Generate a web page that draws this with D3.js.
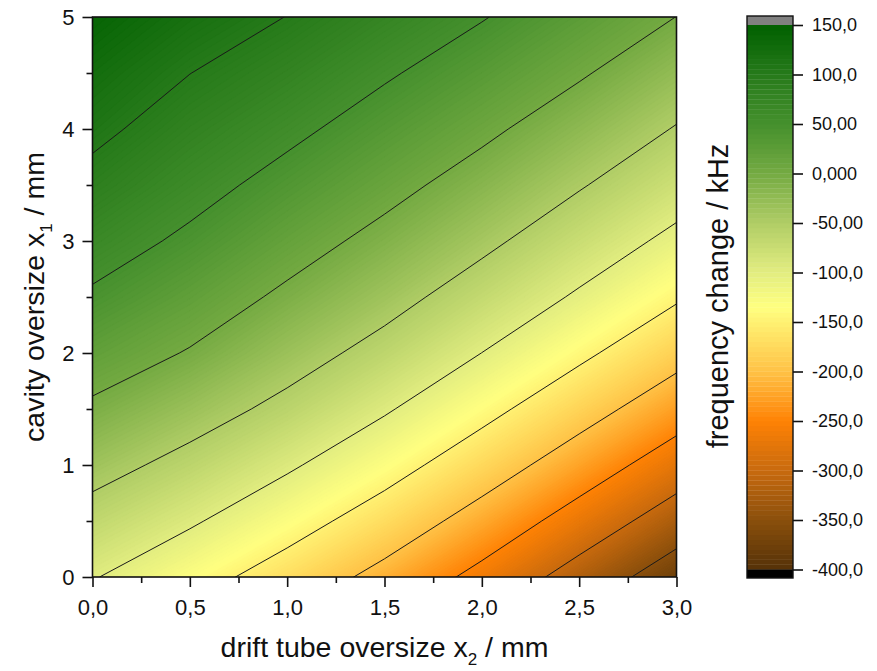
<!DOCTYPE html>
<html>
<head>
<meta charset="utf-8">
<script src="https://cdn.jsdelivr.net/npm/d3@7"></script>
<style>
  body { margin: 0; background: #fff; }
  text { font-family: "Liberation Sans", Arial, sans-serif; fill: #111; }
</style>
</head>
<body>
<svg id="chart" width="877" height="671"></svg>
<script>
// Grid axes (mm)
const driftOversize = [0, 0.5, 1.0, 1.5, 2.0, 2.5, 3.0];               // x2, columns
const cavityOversize = [0, 0.5, 1.0, 1.5, 2.0, 2.5, 3.0, 3.5, 4.0, 4.5, 5.0]; // x1, rows

// Frequency change in kHz, one row per cavity oversize x1, one column per drift tube oversize x2
const freqChange = [
  [-97.5, -132.0, -170.4, -213.7, -263.0, -319.5, -376.0],
  [-66.0,  -94.8, -131.1, -171.5, -218.4, -269.8, -324.5],
  [-35.3,  -62.4,  -94.0, -131.9, -176.0, -223.7, -274.5],
  [ -6.0,  -31.8,  -60.6,  -95.5, -136.5, -181.0, -227.7],
  [ 20.0,   -2.4,  -32.5,  -63.5, -100.2, -141.0, -184.7],
  [ 45.0,   20.7,   -6.7,  -35.6,  -69.5, -105.0, -145.1],
  [ 67.2,   43.2,   15.9,  -10.9,  -41.0,  -75.3, -109.9],
  [ 88.8,   63.1,   37.5,   11.9,  -16.0,  -46.9,  -80.0],
  [108.7,   81.7,   58.6,   33.1,    7.9,  -21.2,  -52.2],
  [125.0,  100.4,   79.0,   54.3,   29.9,    4.0,  -26.1],
  [141.0,  119.0,   99.4,   75.6,   52.0,   26.0,   -0.3]
];

// Contour line levels (kHz)
const lineLevels = [-350, -300, -250, -200, -150, -100, -50, 0, 50, 100];

// Tick labels
const xTickLabels = ["0,0", "0,5", "1,0", "1,5", "2,0", "2,5", "3,0"];
const yTickValues = [0, 1, 2, 3, 4, 5];
const yTickLabels = ["0", "1", "2", "3", "4", "5"];
const barTickValues = [150, 100, 50, 0, -50, -100, -150, -200, -250, -300, -350, -400];
const barTickLabels = ["150,0", "100,0", "50,00", "0,000", "-50,00", "-100,0", "-150,0",
                       "-200,0", "-250,0", "-300,0", "-350,0", "-400,0"];

// Colour palette (kHz -> colour)
const paletteStops  = [150, 100, 50, 0, -50, -100, -135, -200, -250, -300, -350, -400];
const paletteColors = ["#006000", "#267a1a", "#45902d", "#74aa42", "#b0cd66", "#e2ed80",
                       "#ffff80", "#ffc246", "#ff8204", "#c86a0e", "#8a4f0c", "#553208"];

const svg = d3.select("#chart");
const plot = { left: 92.5, right: 676.5, top: 17, bottom: 577 };

const xs = d3.scaleLinear().domain([0, 3]).range([plot.left, plot.right]);
const ys = d3.scaleLinear().domain([0, 5]).range([plot.bottom, plot.top]);
const color = d3.scaleLinear().domain(paletteStops).range(paletteColors)
  .interpolate(d3.interpolateRgb).clamp(true);

const nx = driftOversize.length, ny = cavityOversize.length;
const values = freqChange.flat();
const dx = driftOversize[1] - driftOversize[0];
const dy = cavityOversize[1] - cavityOversize[0];

// grid coordinates from d3.contours put sample i at i + 0.5
const gridProj = d3.geoTransform({
  point(cx, cy) {
    this.stream.point(xs(driftOversize[0] + (cx - 0.5) * dx),
                      ys(cavityOversize[0] + (cy - 0.5) * dy));
  }
});
const path = d3.geoPath(gridProj);

svg.append("defs").append("clipPath").attr("id", "plotClip")
  .append("rect")
  .attr("x", plot.left).attr("y", plot.top)
  .attr("width", plot.right - plot.left).attr("height", plot.bottom - plot.top);

// filled colour bands
const bandStep = 2.5;
const bandThresholds = d3.range(-400, 150 + 1e-9, bandStep);
const bands = d3.contours().size([nx, ny]).thresholds(bandThresholds)(values);

const fillG = svg.append("g").attr("clip-path", "url(#plotClip)");
fillG.append("rect")
  .attr("x", plot.left).attr("y", plot.top)
  .attr("width", plot.right - plot.left).attr("height", plot.bottom - plot.top)
  .attr("fill", color(-400));
fillG.selectAll("path.band").data(bands).join("path")
  .attr("class", "band")
  .attr("d", path)
  .attr("fill", d => color(d.value + bandStep / 2))
  .attr("stroke", d => color(d.value + bandStep / 2))
  .attr("stroke-width", 0.4);

// contour lines
const lines = d3.contours().size([nx, ny]).thresholds(lineLevels)(values);
svg.append("g").attr("clip-path", "url(#plotClip)")
  .selectAll("path").data(lines).join("path")
  .attr("d", path)
  .attr("fill", "none")
  .attr("stroke", "#1a1a1a")
  .attr("stroke-width", 1);

// frame
svg.append("rect")
  .attr("x", plot.left).attr("y", plot.top)
  .attr("width", plot.right - plot.left).attr("height", plot.bottom - plot.top)
  .attr("fill", "none").attr("stroke", "#111").attr("stroke-width", 1.6);

// axes
const xAxis = d3.axisBottom(xs).tickValues(driftOversize)
  .tickFormat((d, i) => xTickLabels[i]).tickSize(10).tickSizeOuter(0).tickPadding(12);
const xMinor = d3.axisBottom(xs).tickValues(d3.range(0.25, 3, 0.5))
  .tickFormat("").tickSize(6).tickSizeOuter(0);
const yAxis = d3.axisLeft(ys).tickValues(yTickValues)
  .tickFormat((d, i) => yTickLabels[i]).tickSize(10).tickSizeOuter(0).tickPadding(8);
const yMinor = d3.axisLeft(ys).tickValues(d3.range(0.5, 5, 1))
  .tickFormat("").tickSize(6).tickSizeOuter(0);

function styleAxis(g, fs) {
  g.select(".domain").remove();
  g.selectAll("line").attr("stroke", "#111").attr("stroke-width", 1.6);
  g.selectAll("text").attr("font-size", fs).attr("fill", "#111")
    .attr("font-family", "Liberation Sans, Arial, sans-serif");
}
svg.append("g").attr("transform", `translate(0,${plot.bottom})`).call(xAxis).call(g => styleAxis(g, 22));
svg.append("g").attr("transform", `translate(0,${plot.bottom})`).call(xMinor).call(g => styleAxis(g, 22));
svg.append("g").attr("transform", `translate(${plot.left},0)`).call(yAxis).call(g => styleAxis(g, 22));
svg.append("g").attr("transform", `translate(${plot.left},0)`).call(yMinor).call(g => styleAxis(g, 22));

// axis titles
const xt = svg.append("text").attr("x", (plot.left + plot.right) / 2).attr("y", 657)
  .attr("text-anchor", "middle").attr("font-size", 28.5);
xt.append("tspan").text("drift tube oversize x");
xt.append("tspan").text("2").attr("font-size", 17).attr("dy", 8);
xt.append("tspan").text(" / mm").attr("dy", -8);

const yt = svg.append("text")
  .attr("transform", `translate(44,${(plot.top + plot.bottom) / 2}) rotate(-90)`)
  .attr("text-anchor", "middle").attr("font-size", 28.5);
yt.append("tspan").text("cavity oversize x");
yt.append("tspan").text("1").attr("font-size", 17).attr("dy", 8);
yt.append("tspan").text(" / mm").attr("dy", -8);

// colour bar
const bar = { left: 747, right: 793 };
const cs = d3.scaleLinear().domain([150, -400]).range([25, 569.5]);
const barG = svg.append("g");
const barStep = 5;
barG.selectAll("rect.seg").data(d3.range(-400, 150, barStep)).join("rect")
  .attr("class", "seg")
  .attr("x", bar.left).attr("width", bar.right - bar.left)
  .attr("y", d => cs(d + barStep)).attr("height", d => cs(d) - cs(d + barStep) + 0.3)
  .attr("fill", d => color(d + barStep / 2));
barG.append("rect").attr("x", bar.left).attr("width", bar.right - bar.left)
  .attr("y", 16).attr("height", cs(150) - 16).attr("fill", "#808080");
barG.append("rect").attr("x", bar.left).attr("width", bar.right - bar.left)
  .attr("y", cs(-400)).attr("height", 578 - cs(-400)).attr("fill", "#000");
barG.append("rect").attr("x", bar.left).attr("y", 16)
  .attr("width", bar.right - bar.left).attr("height", 578 - 16)
  .attr("fill", "none").attr("stroke", "#111").attr("stroke-width", 1.4);

const barAxis = d3.axisRight(cs).tickValues(barTickValues)
  .tickFormat((d, i) => barTickLabels[i]).tickSize(10).tickSizeOuter(0).tickPadding(9);
svg.append("g").attr("transform", `translate(${bar.right},0)`).call(barAxis)
  .call(g => styleAxis(g, 18));

svg.append("text").attr("transform", "translate(728,296) rotate(-90)")
  .attr("text-anchor", "middle").attr("font-size", 29)
  .text("frequency change / kHz");
</script>
</body>
</html>
